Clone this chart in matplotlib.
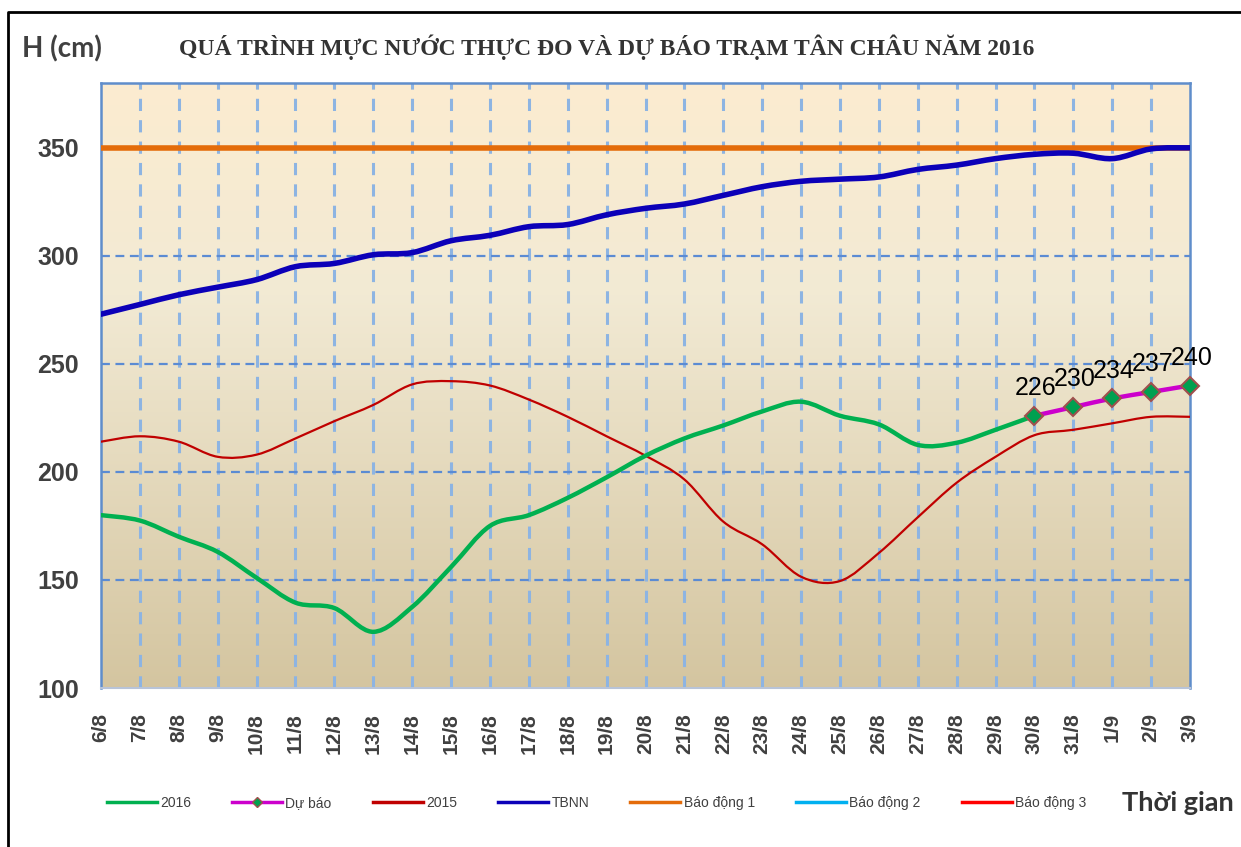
import matplotlib
matplotlib.use("Agg")
import matplotlib.pyplot as plt
import numpy as np
from matplotlib.path import Path
from matplotlib.patches import PathPatch
from matplotlib.lines import Line2D

# ---------------- data ----------------
dates = ["6/8", "7/8", "8/8", "9/8", "10/8", "11/8", "12/8", "13/8", "14/8", "15/8",
         "16/8", "17/8", "18/8", "19/8", "20/8", "21/8", "22/8", "23/8", "24/8", "25/8",
         "26/8", "27/8", "28/8", "29/8", "30/8", "31/8", "1/9", "2/9", "3/9"]
h2016 = [180, 177.5, 170, 163, 151, 139.5, 137, 126, 137.5, 156,
         175, 180, 188, 197.5, 207.5, 215.5, 221.5, 228, 232.5, 226,
         222, 212.5, 213.5, 219.5, 226]
forecast_dates = ["30/8", "31/8", "1/9", "2/9", "3/9"]
forecast = [226, 230, 234, 237, 240]
h2015 = [214, 216.5, 214, 207, 208, 215.5, 223.5, 231, 240.5, 242,
         240, 233.5, 225.5, 216.5, 207.5, 196.5, 177, 166.5, 151.5, 149.5,
         162.5, 179, 195, 207, 217, 219.5, 222.5, 225.5, 225.5]
tbnn = [273, 277.5, 282, 285.5, 289, 295, 296.5, 300.5, 301.5, 307,
        309.5, 313.5, 314.5, 319, 322, 324, 328, 332, 334.5, 335.5,
        336.5, 340, 342, 345, 347, 347.5, 345, 349.5, 350]
bao_dong_1 = 350
bao_dong_2 = 400
bao_dong_3 = 450
yticks = [100, 150, 200, 250, 300, 350]

# ---------------- helpers ----------------
def smooth_path(xs, ys):
    """Catmull-Rom curve through the points, as cubic Bezier segments."""
    pts = np.column_stack([xs, ys]).astype(float)
    n = len(pts)
    verts = [pts[0]]
    codes = [Path.MOVETO]
    for i in range(n - 1):
        p0 = pts[i - 1] if i > 0 else pts[i]
        p1 = pts[i]
        p2 = pts[i + 1]
        p3 = pts[i + 2] if i + 2 < n else pts[i + 1]
        c1 = p1 + (p2 - p0) / 6.0
        c2 = p2 - (p3 - p1) / 6.0
        verts += [c1, c2, p2]
        codes += [Path.CURVE4] * 3
    return Path(verts, codes)

def draw_smooth(ax, xs, ys, color, lw, z):
    patch = PathPatch(smooth_path(xs, ys), facecolor="none", edgecolor=color,
                      lw=lw, zorder=z, capstyle="round", joinstyle="round")
    ax.add_patch(patch)

W, H = 1241, 847
fig = plt.figure(figsize=(W / 100, H / 100), dpi=100)
fig.patch.set_facecolor("white")
ax = fig.add_axes([101 / W, 1 - 688 / H, (1190 - 101) / W, (688 - 83) / H])

x_all = np.arange(len(dates))
x16 = x_all[:len(h2016)]
xf = np.array([dates.index(d) for d in forecast_dates])

ax.set_xlim(0, len(dates) - 1)
ax.set_ylim(100, 380)

# background gradient
top = np.array([252, 236, 208]) / 255
mid = np.array([242, 234, 212]) / 255
bot = np.array([212, 197, 160]) / 255
t = np.linspace(0, 1, 256)[:, None]
grad = np.where(t < 0.35, top + (mid - top) * (t / 0.35),
                mid + (bot - mid) * ((t - 0.35) / 0.65))
ax.imshow(grad[:, None, :].repeat(2, axis=1), extent=(0, len(dates) - 1, 100, 380),
          aspect="auto", zorder=0, origin="upper")

# grid
for xv in x_all[1:-1]:
    ax.axvline(xv, color="#8DB4E2", lw=2.2, ls=(0, (4, 3)), zorder=1)
for yv in [150, 200, 250, 300]:
    ax.axhline(yv, color="#5B8BD3", lw=1.6, ls=(0, (4, 2.5)), zorder=1)

# lines
ax.axhline(bao_dong_1, color="#E46C0A", lw=4, zorder=3)
ax.axhline(bao_dong_2, color="#00B0F0", lw=2, zorder=3)
ax.axhline(bao_dong_3, color="#FF0000", lw=2, zorder=3)
draw_smooth(ax, x_all, tbnn, "#0C00B8", 4, 4)
draw_smooth(ax, x_all, h2015, "#C00000", 1.6, 5)
draw_smooth(ax, x16, h2016, "#00B050", 3.2, 6)
draw_smooth(ax, xf, forecast, "#CC00CC", 3.2, 7)
ax.plot(xf, forecast, ls="none", marker="D", ms=9, mfc="#00A050",
        mec="#A0504D", mew=1.5, zorder=8, clip_on=False)
for xv, v in zip(xf, forecast):
    ax.annotate(f"{v}", (xv, v), xytext=(1, 15), textcoords="offset points",
                ha="center", va="baseline", fontsize=18, color="black",
                family="Liberation Sans", zorder=9, annotation_clip=False)

# axes styling
for side in ["left", "right", "top"]:
    ax.spines[side].set_color("#5F8DCB")
    ax.spines[side].set_linewidth(1.8)
ax.spines["bottom"].set_color("#B8C4D8")
ax.spines["bottom"].set_linewidth(1.5)
ax.set_xticks(x_all)
ax.set_xticklabels(dates, rotation=90, fontsize=15, fontweight="bold",
                   color="#404040", family="Liberation Sans")
ax.set_yticks(yticks)
ax.set_yticklabels([str(v) for v in yticks], fontsize=18, fontweight="bold",
                   color="#404040", family="Liberation Sans")
ax.tick_params(axis="x", length=0, pad=18)
ax.tick_params(axis="y", length=0, pad=16)

# titles
fig.text(607 / W, 1 - 47 / H, "QUÁ TRÌNH MỰC NƯỚC THỰC ĐO VÀ DỰ BÁO TRẠM TÂN CHÂU NĂM 2016",
         ha="center", va="center", fontsize=17, fontweight="bold",
         family="Liberation Serif", color="#333333")
fig.text(22 / W, 1 - 49 / H, "H (cm)", ha="left", va="center", fontsize=20,
         fontweight="bold", family="Lato", color="#404040")
fig.text(1122 / W, 1 - 803 / H, "Thời gian", ha="left", va="center", fontsize=19.5,
         fontweight="bold", family="Lato", color="#333333")

# legend
handles = [
    Line2D([], [], color="#00B050", lw=2.5),
    Line2D([], [], color="#CC00CC", lw=2.5, marker="D", ms=5, mfc="#00A050", mec="#A0504D"),
    Line2D([], [], color="#C00000", lw=2.5),
    Line2D([], [], color="#0C00B8", lw=2.5),
    Line2D([], [], color="#E46C0A", lw=2.5),
    Line2D([], [], color="#00B0F0", lw=2.5),
    Line2D([], [], color="#FF0000", lw=2.5),
]
labels = ["2016", "Dự báo", "2015", "TBNN", "Báo động 1", "Báo động 2", "Báo động 3"]
leg = fig.legend(handles, labels, loc="center left", bbox_to_anchor=(94 / W, 1 - 803 / H),
                 ncol=7, frameon=False, handlelength=3.6, handletextpad=0.25,
                 columnspacing=2.95, prop={"family": "Liberation Sans", "size": 10})
for txt in leg.get_texts():
    txt.set_color("#404040")

# outer frame
fig.add_artist(Line2D([8 / W, 8 / W, 1.01], [-0.01, 1 - 12 / H, 1 - 12 / H],
                      transform=fig.transFigure, color="black", lw=2))

fig.savefig("out.png", dpi=100)
